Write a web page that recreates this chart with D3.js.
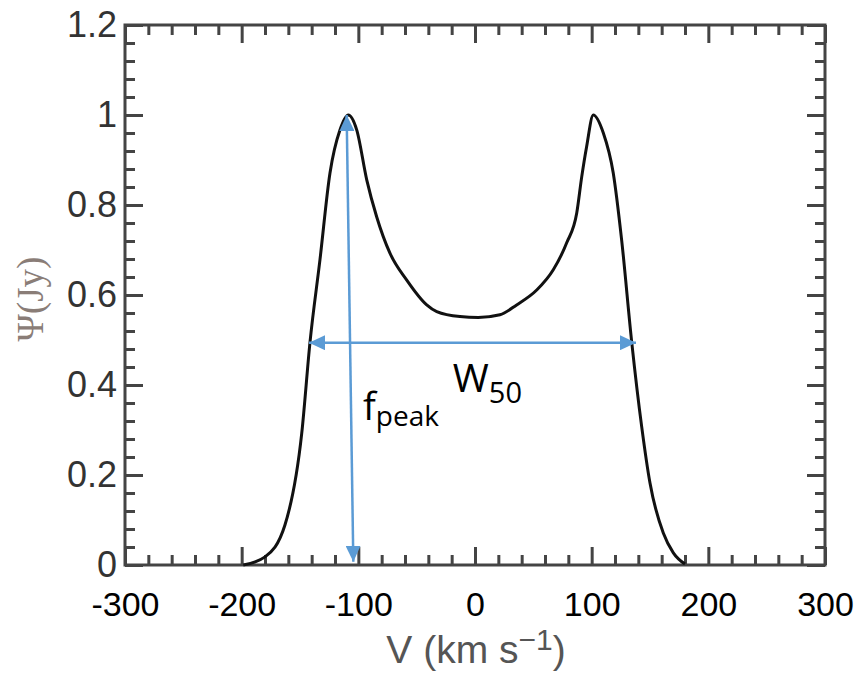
<!DOCTYPE html>
<html><head><meta charset="utf-8">
<script src="https://cdn.jsdelivr.net/npm/d3@7"></script>
<style>body{margin:0;background:#fff}svg{display:block}</style>
</head><body>
<svg id="chart" width="865" height="675"></svg>
<script>
// ---- data ----
const velocity = [-198.6, -180, -162.9, -148.5, -141.4, -132.9, -124.3, -115.7, -108.6, -101.4, -92.8, -84.3, -72.9, -58.5, -41.4, -32.8, -12.9, 2.8, 21.4, 35.7, 52.9, 67.1, 78.6, 87.2, 91.5, 95.7, 101.4, 110, 118.5, 125.7, 134.3, 142.9, 150, 161.4, 170, 180];
const flux = [0, 0.018, 0.089, 0.293, 0.496, 0.678, 0.871, 0.967, 1.0, 0.967, 0.856, 0.774, 0.693, 0.633, 0.578, 0.563, 0.552, 0.55, 0.556, 0.578, 0.611, 0.656, 0.716, 0.782, 0.863, 0.93, 1.0, 0.96, 0.871, 0.722, 0.496, 0.307, 0.182, 0.071, 0.027, 0.002];
const xTicks = [-300, -200, -100, 0, 100, 200, 300];
const xTickLabels = ["-300", "-200", "-100", "0", "100", "200", "300"];
const yTicks = [0, 0.2, 0.4, 0.6, 0.8, 1, 1.2];
const yTickLabels = ["0", "0.2", "0.4", "0.6", "0.8", "1", "1.2"];
// annotation arrows (data coordinates)
const peakArrowV = [-110, -104.3];
const peakArrowF = [1.0, 0.007];
const w50ArrowV = [-142.3, 138];
const w50ArrowF = [0.494, 0.494];
const peakLabelPos = [-96, 0.322];
const w50LabelPos = [-19, 0.384];

// ---- layout ----
const svg = d3.select("#chart");
const L = 125, R = 825, T = 25, B = 565;
const x = d3.scaleLinear().domain([-300, 300]).range([L, R]);
const y = d3.scaleLinear().domain([0, 1.2]).range([B, T]);

const xMinor = d3.range(-300, 301, 20).filter(v => Math.abs(v % 100) > 1e-6);
const yMinor = d3.range(0, 1.2001, 0.04).filter(v => Math.abs(Math.round(v / 0.2) * 0.2 - v) > 1e-6);

const axisColor = "#444";
const MAJ = 18, MIN = 10;

function styleAxis(g) {
  g.select(".domain").remove();
  g.selectAll(".tick line").attr("stroke", axisColor).attr("stroke-width", 3);
}

// bottom
svg.append("g").attr("transform", `translate(0,${B})`)
  .call(d3.axisBottom(x).tickValues(xTicks).tickSize(-MAJ).tickPadding(27)
    .tickFormat((d, i) => xTickLabels[i]))
  .call(styleAxis)
  .call(g => g.selectAll("text").attr("fill", "#000").attr("dy", "0.71em").style("font-family", "'Liberation Sans', Arial, sans-serif").style("font-size", "34px"));
svg.append("g").attr("transform", `translate(0,${B})`)
  .call(d3.axisBottom(x).tickValues(xMinor).tickSize(-MIN).tickFormat(""))
  .call(styleAxis);
// top
svg.append("g").attr("transform", `translate(0,${T})`)
  .call(d3.axisTop(x).tickValues(xTicks).tickSize(-MAJ).tickFormat(""))
  .call(styleAxis);
svg.append("g").attr("transform", `translate(0,${T})`)
  .call(d3.axisTop(x).tickValues(xMinor).tickSize(-MIN).tickFormat(""))
  .call(styleAxis);
// left
svg.append("g").attr("transform", `translate(${L},0)`)
  .call(d3.axisLeft(y).tickValues(yTicks).tickSize(-MAJ).tickPadding(8)
    .tickFormat((d, i) => yTickLabels[i]))
  .call(styleAxis)
  .call(g => g.selectAll("text").attr("fill", "#333").attr("dy", "0.31em").style("font-family", "'Liberation Sans', Arial, sans-serif").style("font-size", "36px"));
svg.append("g").attr("transform", `translate(${L},0)`)
  .call(d3.axisLeft(y).tickValues(yMinor).tickSize(-MIN).tickFormat(""))
  .call(styleAxis);
// right
svg.append("g").attr("transform", `translate(${R},0)`)
  .call(d3.axisRight(y).tickValues(yTicks).tickSize(-MAJ).tickFormat(""))
  .call(styleAxis);
svg.append("g").attr("transform", `translate(${R},0)`)
  .call(d3.axisRight(y).tickValues(yMinor).tickSize(-MIN).tickFormat(""))
  .call(styleAxis);

// frame
svg.append("rect").attr("x", L).attr("y", T).attr("width", R - L).attr("height", B - T)
  .attr("fill", "none").attr("stroke", axisColor).attr("stroke-width", 3);

// curve
const pts = velocity.map((v, i) => [v, flux[i]]);
svg.append("path").datum(pts)
  .attr("d", d3.line().x(d => x(d[0])).y(d => y(d[1])).curve(d3.curveMonotoneX))
  .attr("fill", "none").attr("stroke", "#111").attr("stroke-width", 3)
  .attr("stroke-linejoin", "round");

// arrows
const blue = "#5B9BD5";
const defs = svg.append("defs");
defs.append("marker").attr("id", "arrow")
  .attr("viewBox", "0 0 16 15").attr("refX", 16).attr("refY", 7.5)
  .attr("markerWidth", 16).attr("markerHeight", 15)
  .attr("markerUnits", "userSpaceOnUse").attr("orient", "auto-start-reverse")
  .append("path").attr("d", "M0,0 L16,7.5 L0,15 Z").attr("fill", blue);

svg.append("line")
  .attr("x1", x(peakArrowV[0])).attr("y1", y(peakArrowF[0]))
  .attr("x2", x(peakArrowV[1])).attr("y2", y(peakArrowF[1]))
  .attr("stroke", blue).attr("stroke-width", 2.5)
  .attr("marker-start", "url(#arrow)").attr("marker-end", "url(#arrow)");
svg.append("line")
  .attr("x1", x(w50ArrowV[0])).attr("y1", y(w50ArrowF[0]))
  .attr("x2", x(w50ArrowV[1])).attr("y2", y(w50ArrowF[1]))
  .attr("stroke", blue).attr("stroke-width", 2.5)
  .attr("marker-start", "url(#arrow)").attr("marker-end", "url(#arrow)");

// annotation labels
const annFont = "'Open Sans', 'Noto Sans', sans-serif";
const fp = svg.append("text").attr("x", x(peakLabelPos[0])).attr("y", y(peakLabelPos[1]))
  .style("font-family", annFont).attr("fill", "#000");
fp.append("tspan").style("font-size", "38px").text("f");
fp.append("tspan").style("font-size", "28px").attr("dy", 6).text("peak");

const wl = svg.append("text").attr("x", x(w50LabelPos[0])).attr("y", y(w50LabelPos[1]))
  .style("font-family", annFont).attr("fill", "#000");
wl.append("tspan").style("font-size", "39px").text("W");
wl.append("tspan").style("font-size", "29px").attr("dy", 11).text("50");

// axis titles
const xt = svg.append("text").attr("x", 476).attr("y", 663).attr("text-anchor", "middle")
  .style("font-family", "'Liberation Sans', Arial, sans-serif").attr("fill", "#555");
xt.append("tspan").style("font-size", "39px").text("V (km s");
xt.append("tspan").style("font-size", "30px").attr("dy", -13).text("\u22121");
xt.append("tspan").style("font-size", "39px").attr("dy", 13).text(")");

svg.append("text").attr("transform", "translate(43,299) rotate(-90)")
  .attr("text-anchor", "middle")
  .style("font-family", "'Liberation Serif', 'Times New Roman', serif")
  .style("font-size", "37px").attr("fill", "#8a7d77").text("\u03A8(Jy)");
</script>
</body></html>
